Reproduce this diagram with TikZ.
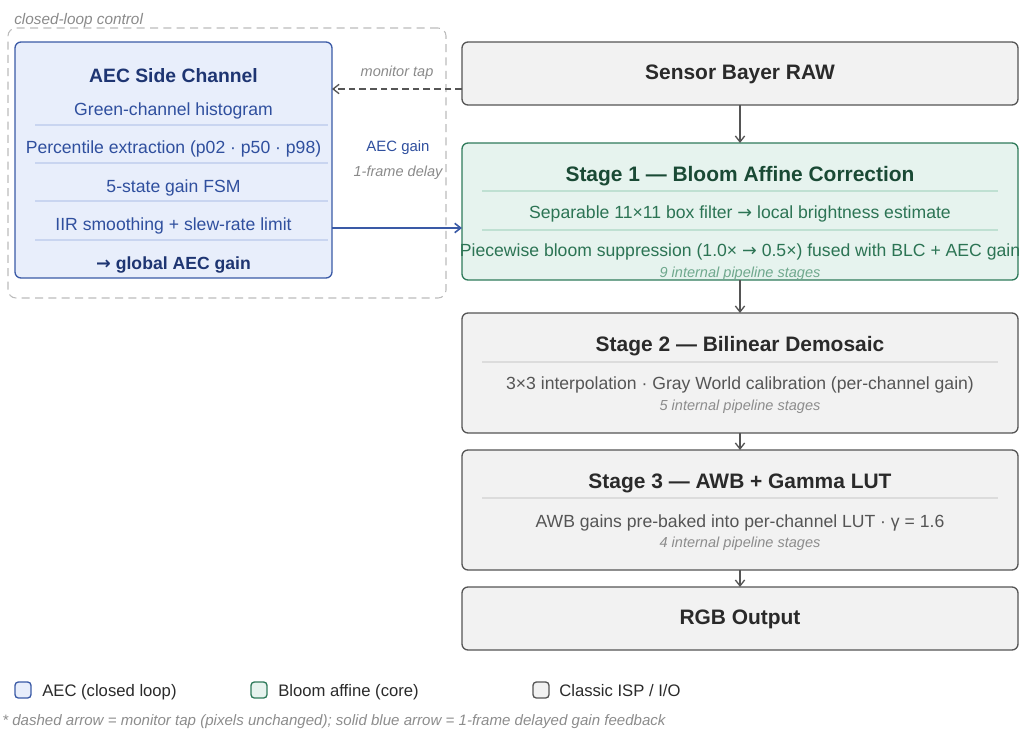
\documentclass[tikz,border=0pt]{standalone}
\usepackage{fontspec}
\setmainfont{Liberation Sans}
\newfontfamily\arrowfont{DejaVu Sans}
\usetikzlibrary{arrows.meta,calc}

\definecolor{aecfill}{HTML}{E8EEFB}
\definecolor{aecline}{HTML}{3A5AA6}
\definecolor{aectitle}{HTML}{1E3572}
\definecolor{aectext}{HTML}{2F4F9E}
\definecolor{aecsep}{HTML}{C9D5F0}
\definecolor{blmfill}{HTML}{E6F3EE}
\definecolor{blmline}{HTML}{2E7A5A}
\definecolor{blmtitle}{HTML}{1A4A35}
\definecolor{blmtext}{HTML}{2C7454}
\definecolor{blmnote}{HTML}{6FA88D}
\definecolor{blmsep}{HTML}{BFE0D2}
\definecolor{ispfill}{HTML}{F2F2F2}
\definecolor{ispline}{HTML}{555555}
\definecolor{isptitle}{HTML}{2A2A2A}
\definecolor{isptext}{HTML}{555555}
\definecolor{ispnote}{HTML}{8C8C8C}
\definecolor{ispsep}{HTML}{DCDCDC}
\definecolor{groupline}{HTML}{BBBBBB}
\definecolor{notegray}{HTML}{8A8A8A}

\newcommand\ttlfont{\fontsize{15.7}{18}\selectfont\bfseries}
\newcommand\bodyfont{\fontsize{13.2}{15}\selectfont}
\newcommand\notefont{\fontsize{10.9}{12}\selectfont\itshape}
\newcommand\rarr{{\arrowfont →}}

\begin{document}
\begin{tikzpicture}[x=0.75pt,y=-0.75pt,
  box/.style={rectangle, rounded corners=4.5pt, line width=1pt,
    inner sep=0pt, outer sep=0pt, text height=1.04em, text depth=0.08em},
  ispbox/.style={box, draw=ispline, fill=ispfill},
  blmbox/.style={box, draw=blmline, fill=blmfill},
  aecbox/.style={box, draw=aecline, fill=aecfill},
  lbl/.style={inner sep=0pt, outer sep=0pt, text height=1.04em, text depth=0.08em},
  ttl/.style={lbl, font=\ttlfont},
  body/.style={lbl, font=\bodyfont},
  note/.style={lbl, font=\notefont},
  sepline/.style={line width=0.8pt},
  flow/.style={draw=ispline, line width=1pt,
    -{Straight Barb[length=4.5pt,width=7pt,line width=1pt]}},
  tap/.style={draw=ispline, line width=1pt, dash pattern=on 5pt off 3pt,
    -{Straight Barb[length=4.5pt,width=7pt,line width=1pt]}},
  gain/.style={draw=aecline, line width=1.2pt,
    -{Straight Barb[length=4.5pt,width=7pt,line width=1.2pt]}},
  swatch/.style={rectangle, rounded corners=2.5pt, line width=1pt,
    minimum width=12pt, minimum height=12pt, inner sep=0pt, outer sep=0pt},
  key/.style={inner sep=0pt, anchor=west, font=\fontsize{12.5}{14}\selectfont,
    text=isptitle, text height=1.04em, text depth=0.08em}
]
\useasboundingbox (0,0) rectangle (1019,728);

% closed-loop group frame
\node[draw=groupline, line width=0.8pt, dash pattern=on 6pt off 4pt,
  rounded corners=6pt, minimum width=328.5pt, minimum height=202.5pt,
  inner sep=0pt] (loop) at (227,163) {};
\node[anchor=west, inner sep=0pt, font=\fontsize{11.5}{13}\selectfont\itshape,
  text=notegray, text height=1.04em, text depth=0.08em] (loopT) at (14,18) {closed-loop control};

% AEC side channel
\node[aecbox, minimum width=237.75pt, minimum height=177pt] (aec) at (173.5,160) {};
\node[lbl, font=\fontsize{14.5}{17}\selectfont\bfseries, text=aectitle] (aecT) at (173.5,76) {AEC Side Channel};
\node[body, text=aectext] (aec1) at (173.5,109) {Green-channel histogram};
\node[body, text=aectext] (aec2) at (173.5,147) {Percentile extraction (p02 · p50 · p98)};
\node[body, text=aectext] (aec3) at (173.5,186) {5-state gain FSM};
\node[body, text=aectext] (aec4) at (173.5,224) {IIR smoothing + slew-rate limit};
\node[body, text=aectitle, font=\bodyfont\bfseries] (aec5) at (173.5,263) {\rarr\ global AEC gain};
\foreach \yy in {125,163,201,240}
  \draw[sepline, draw=aecsep] (35,\yy) -- (328,\yy);

% main pipeline
\node[ispbox, minimum width=417pt, minimum height=47.25pt,
  font=\ttlfont, text=isptitle] (sensor) at (740,73.5) {Sensor Bayer RAW};

\node[blmbox, minimum width=417pt, minimum height=102.75pt] (st1) at (740,211.5) {};
\node[ttl, text=blmtitle] (st1T) at (740,175) {Stage 1 — Bloom Affine Correction};
\draw[sepline, draw=blmsep] (482,191) -- (998,191);
\node[body, text=blmtext] (st1a) at (740,212) {Separable 11×11 box filter \rarr\ local brightness estimate};
\draw[sepline, draw=blmsep] (482,230) -- (998,230);
\node[body, text=blmtext] (st1b) at (740,250) {Piecewise bloom suppression (1.0× \rarr\ 0.5×) fused with BLC + AEC gain};
\node[note, text=blmnote] (st1n) at (740,271) {9 internal pipeline stages};

\node[ispbox, minimum width=417pt, minimum height=90pt] (st2) at (740,373) {};
\node[ttl, text=isptitle] (st2T) at (740,345) {Stage 2 — Bilinear Demosaic};
\draw[sepline, draw=ispsep] (482,362) -- (998,362);
\node[body, text=isptext] (st2a) at (740,383) {3×3 interpolation · Gray World calibration (per-channel gain)};
\node[note, text=ispnote] (st2n) at (740,404) {5 internal pipeline stages};

\node[ispbox, minimum width=417pt, minimum height=90pt] (st3) at (740,510) {};
\node[ttl, text=isptitle] (st3T) at (740,482) {Stage 3 — AWB + Gamma LUT};
\draw[sepline, draw=ispsep] (482,498) -- (998,498);
\node[body, text=isptext] (st3a) at (740,521) {AWB gains pre-baked into per-channel LUT · γ = 1.6};
\node[note, text=ispnote] (st3n) at (740,541) {4 internal pipeline stages};

\node[ispbox, minimum width=417pt, minimum height=47.25pt,
  font=\ttlfont, text=isptitle] (rgb) at (740,618.5) {RGB Output};

% pipeline flow
\draw[flow] (sensor) -- (st1);
\draw[flow] (st1) -- (st2);
\draw[flow] (st2) -- (st3);
\draw[flow] (st3) -- (rgb);

% monitor tap and gain feedback
\draw[tap] (sensor.west |- 0,89) -- (aec.east |- 0,89);
\node[note, text=notegray] (tapT) at (397,70) {monitor tap};
\draw[gain] (aec.east |- 0,228) -- (st1.west |- 0,228);
\node[lbl, font=\fontsize{11.2}{13}\selectfont, text=aectext] (gainT) at (398,145) {AEC gain};
\node[note, text=notegray] (gainN) at (398,170) {1-frame delay};

% legend
\node[swatch, draw=aecline, fill=aecfill] (kA) at (23,690) {};
\node[key] (kAT) at (42,690) {AEC (closed loop)};
\node[swatch, draw=blmline, fill=blmfill] (kB) at (259,690) {};
\node[key] (kBT) at (278,690) {Bloom affine (core)};
\node[swatch, draw=ispline, fill=ispfill] (kC) at (541,690) {};
\node[key] (kCT) at (559,690) {Classic ISP / I/O};

\node[anchor=west, inner sep=0pt, font=\fontsize{11.3}{13}\selectfont\itshape,
  text=ispnote, text height=1.04em, text depth=0.08em] (foot) at (2,719)
  {* dashed arrow = monitor tap (pixels unchanged); solid blue arrow = 1-frame delayed gain feedback};
\end{tikzpicture}
\end{document}
